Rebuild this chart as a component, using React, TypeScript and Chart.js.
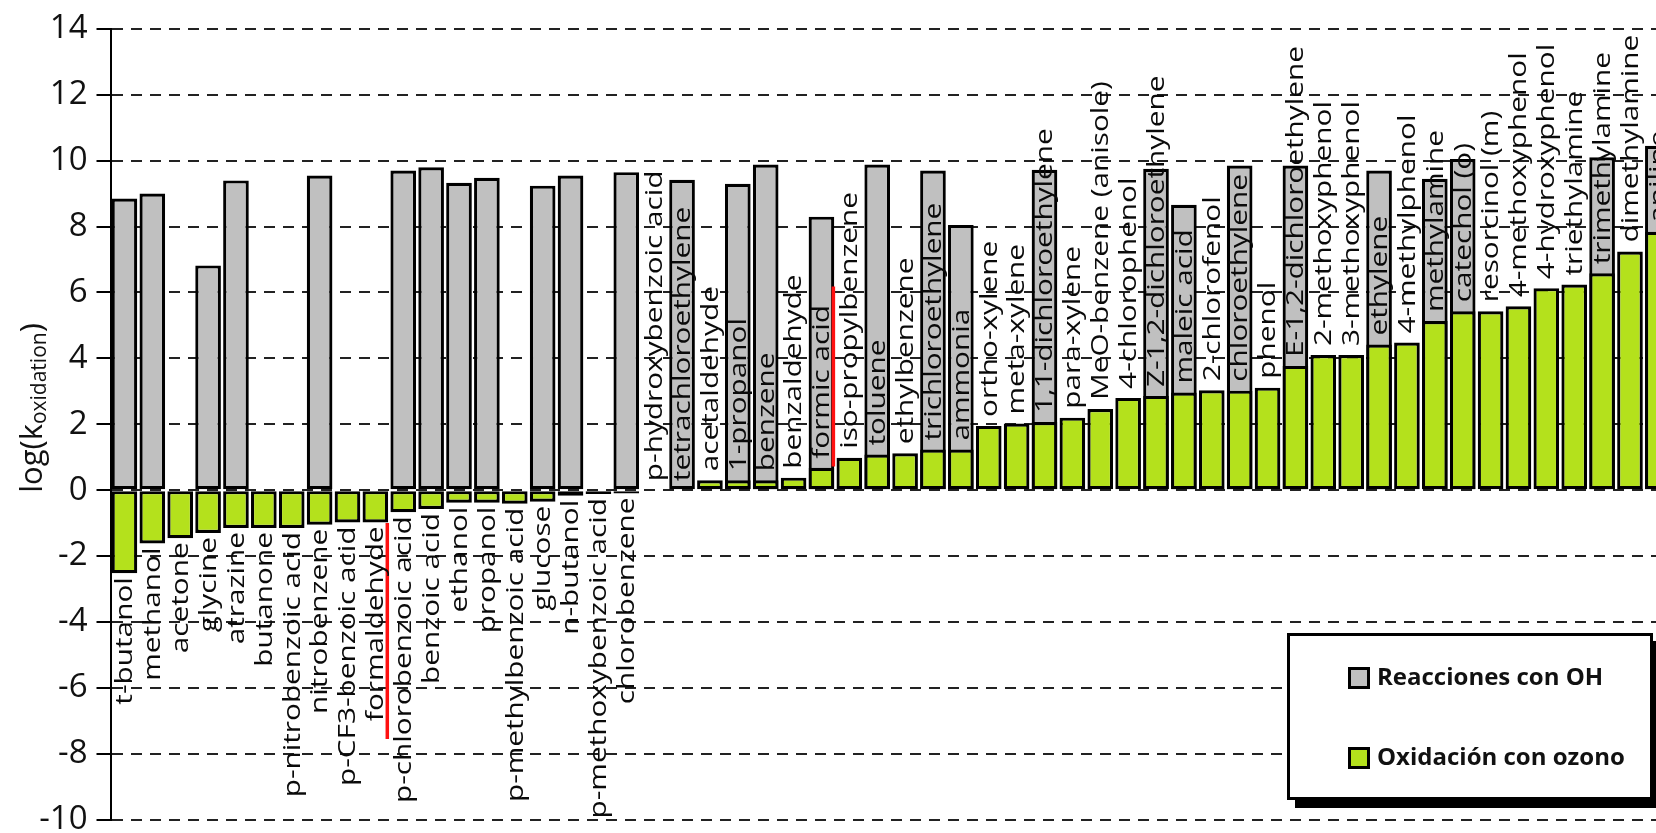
import React, { useEffect, useRef } from "react";
import { Chart, registerables } from "chart.js";

Chart.register(...registerables);

// Compounds, in plotted order
const compounds: string[] = [
  "t-butanol", "methanol", "acetone", "glycine", "atrazine", "butanone",
  "p-nitrobenzoic acid", "nitrobenzene", "p-CF3-benzoic acid", "formaldehyde",
  "p-chlorobenzoic acid", "benzoic acid", "ethanol", "propanol",
  "p-methylbenzoic acid", "glucose", "n-butanol", "p-methoxybenzoic acid",
  "chlorobenzene", "p-hydroxybenzoic acid", "tetrachloroethylene", "acetaldehyde",
  "1-propanol", "benzene", "benzaldehyde", "formic acid", "iso-propylbenzene",
  "toluene", "ethylbenzene", "trichloroethylene", "ammonia", "ortho-xylene",
  "meta-xylene", "1,1-dichloroethylene", "para-xylene", "MeO-benzene (anisole)",
  "4-chlorophenol", "Z-1,2-dichloroethylene", "maleic acid", "2-chlorofenol",
  "chloroethylene", "phenol", "E-1,2-dichloroethylene", "2-methoxyphenol",
  "3-methoxyphenol", "ethylene", "4-methylphenol", "methylamine", "catechol (o)",
  "resorcinol (m)", "4-methoxyphenol", "4-hydroxyphenol", "triethylamine",
  "trimethylamine", "dimethylamine", "aniline",
];

// log k for the reaction with OH radicals
const ohRate: (number | null)[] = [
  8.85, 9.0, null, 6.82, 9.4, null,
  null, 9.55, null, null,
  9.7, 9.8, 9.33, 9.48,
  null, 9.24, 9.55, null,
  9.65, null, 9.42, null,
  9.3, 9.88, null, 8.3, null,
  9.88, null, 9.7, 8.05, null,
  null, 9.72, null, null,
  null, 9.75, 8.66, null,
  9.85, null, 9.85, null,
  null, 9.7, null, 9.45, 10.05,
  null, null, null, null,
  10.1, null, 10.45,
];

// log k for direct oxidation by ozone
const ozoneRate: (number | null)[] = [
  -2.52, -1.62, -1.46, -1.3, -1.15, -1.15,
  -1.15, -1.05, -0.98, -0.98,
  -0.67, -0.57, -0.38, -0.38,
  -0.41, -0.35, -0.17, -0.12,
  -0.1, null, null, 0.3,
  0.3, 0.3, 0.38, 0.68, 0.98,
  1.08, 1.12, 1.23, 1.23, 1.95,
  2.02, 2.07, 2.2, 2.46,
  2.8, 2.86, 2.96, 3.03,
  3.02, 3.11, 3.77, 4.1,
  4.1, 4.42, 4.48, 5.13, 5.43,
  5.43, 5.58, 6.13, 6.24,
  6.58, 7.24, 7.84,
];

// Axis range and step
const yMin = -10;
const yMax = 14;
const yStep = 2;

const seriesNames = ["Reacciones con OH", "Oxidación con ozono"];
const seriesColors = ["#c0c0c0", "#b4e11c"];

// Red separators: drawn on the boundary after the given category, between two values
const dividerAfter = [9, 25];
const dividerFrom = [-1.0, 0.72];
const dividerTo = [-7.55, 6.18];

const FONT = "'Open Sans', 'DejaVu Sans', sans-serif";
const LABEL_SIZE = 24;
const LABEL_STRETCH = 1.24;

const labelPlugin = {
  id: "compoundLabels",
  afterDatasetsDraw(chart: any) {
    const { ctx, scales } = chart;
    const xs = scales.x;
    const ys = scales.y;

    // red separator lines
    ctx.save();
    ctx.strokeStyle = "#ff1010";
    ctx.lineWidth = 3.5;
    dividerAfter.forEach((idx, k) => {
      const x = (xs.getPixelForValue(idx) + xs.getPixelForValue(idx + 1)) / 2 - 2;
      ctx.beginPath();
      ctx.moveTo(x, ys.getPixelForValue(dividerFrom[k]));
      ctx.lineTo(x, ys.getPixelForValue(dividerTo[k]));
      ctx.stroke();
    });
    ctx.restore();

    // vertical compound names next to the ozone bar end
    ctx.save();
    ctx.fillStyle = "#0a0a0a";
    ctx.font = `${LABEL_SIZE}px ${FONT}`;
    ctx.textBaseline = "middle";
    compounds.forEach((name, i) => {
      const x = xs.getPixelForValue(i);
      const oz = ozoneRate[i];
      ctx.save();
      if (oz !== null && oz < 0) {
        const y = ys.getPixelForValue(oz) + 4;
        ctx.translate(x, y);
        ctx.rotate(-Math.PI / 2);
        ctx.scale(LABEL_STRETCH, 1);
        ctx.textAlign = "right";
      } else {
        const y = ys.getPixelForValue(Math.max(oz ?? 0, 0)) - 9;
        ctx.translate(x, y);
        ctx.rotate(-Math.PI / 2);
        ctx.scale(LABEL_STRETCH, 1);
        ctx.textAlign = "left";
      }
      ctx.fillText(name, 0, 1);
      ctx.restore();
    });
    ctx.restore();
  },
  afterDraw(chart: any) {
    const { ctx } = chart;

    // y axis title with subscript
    ctx.save();
    ctx.translate(32, 408);
    ctx.rotate(-Math.PI / 2);
    ctx.fillStyle = "#111";
    ctx.textBaseline = "alphabetic";
    const main = "log(k";
    const sub = "oxidation";
    const close = ")";
    ctx.font = `31px ${FONT}`;
    const wMain = ctx.measureText(main).width;
    const wClose = ctx.measureText(close).width;
    ctx.font = `21px ${FONT}`;
    const wSub = ctx.measureText(sub).width;
    const total = wMain + wSub + wClose;
    let px = -total / 2;
    ctx.font = `31px ${FONT}`;
    ctx.fillText(main, px, 10);
    px += wMain;
    ctx.font = `21px ${FONT}`;
    ctx.fillText(sub, px, 14);
    px += wSub;
    ctx.font = `31px ${FONT}`;
    ctx.fillText(close, px, 10);
    ctx.restore();

    // legend box with drop shadow
    const bx = 1287;
    const by = 633;
    const bw = 366;
    const bh = 167;
    ctx.save();
    ctx.fillStyle = "#000";
    ctx.fillRect(bx + 8, by + 8, bw, bh);
    ctx.fillStyle = "#fff";
    ctx.fillRect(bx, by, bw, bh);
    ctx.strokeStyle = "#000";
    ctx.lineWidth = 3;
    ctx.strokeRect(bx + 1.5, by + 1.5, bw - 3, bh - 3);
    ctx.font = `bold 24px ${FONT}`;
    ctx.textBaseline = "middle";
    ctx.textAlign = "left";
    const rows = [678, 758];
    seriesNames.forEach((name, k) => {
      const sy = rows[k];
      ctx.fillStyle = "#000";
      ctx.fillRect(bx + 61, sy - 11, 22, 22);
      ctx.fillStyle = seriesColors[k];
      ctx.fillRect(bx + 64, sy - 8, 16, 16);
      ctx.fillStyle = "#111";
      ctx.fillText(name, bx + 90, sy);
    });
    ctx.restore();
  },
};

export default function App() {
  const canvasRef = useRef<HTMLCanvasElement>(null);

  useEffect(() => {
    if (!canvasRef.current) return;
    const barStyle = {
      borderColor: "#000",
      borderWidth: 3.2,
      borderSkipped: false as const,
      grouped: false,
      barPercentage: 0.92,
      categoryPercentage: 1,
    };
    const chart = new Chart(canvasRef.current, {
      type: "bar",
      data: {
        labels: compounds,
        datasets: [
          { label: seriesNames[1], data: ozoneRate as any, backgroundColor: seriesColors[1], order: 0, ...barStyle },
          { label: seriesNames[0], data: ohRate as any, backgroundColor: seriesColors[0], order: 1, ...barStyle },
        ],
      },
      options: {
        animation: false,
        responsive: false,
        layout: { padding: { left: 0, top: 23.6, right: 28.2, bottom: 40.3 } },
        plugins: {
          legend: { display: false },
          tooltip: { enabled: false },
        },
        scales: {
          x: { type: "category", display: false, offset: true },
          y: {
            min: yMin,
            max: yMax,
            ticks: {
              stepSize: yStep,
              color: "#111",
              padding: 9,
              font: { family: FONT, size: 33 },
            },
            grid: {
              color: "#222",
              lineWidth: 2,
              tickLength: 14,
              tickColor: "#000",
              tickWidth: 2,
              tickBorderDash: [],
            },
            border: { display: true, color: "#000", width: 2, dash: [11, 8] },
            afterFit(scale: any) {
              scale.width = 110.5;
            },
          },
        },
      },
      plugins: [labelPlugin],
    });
    return () => chart.destroy();
  }, []);

  return (
    <div
      style={{
        position: "fixed",
        left: 0,
        top: 0,
        width: "100vw",
        height: "100vh",
        overflow: "hidden",
        background: "#fff",
      }}
    >
      <canvas ref={canvasRef} width={1700} height={860} style={{ display: "block" }} />
    </div>
  );
}
